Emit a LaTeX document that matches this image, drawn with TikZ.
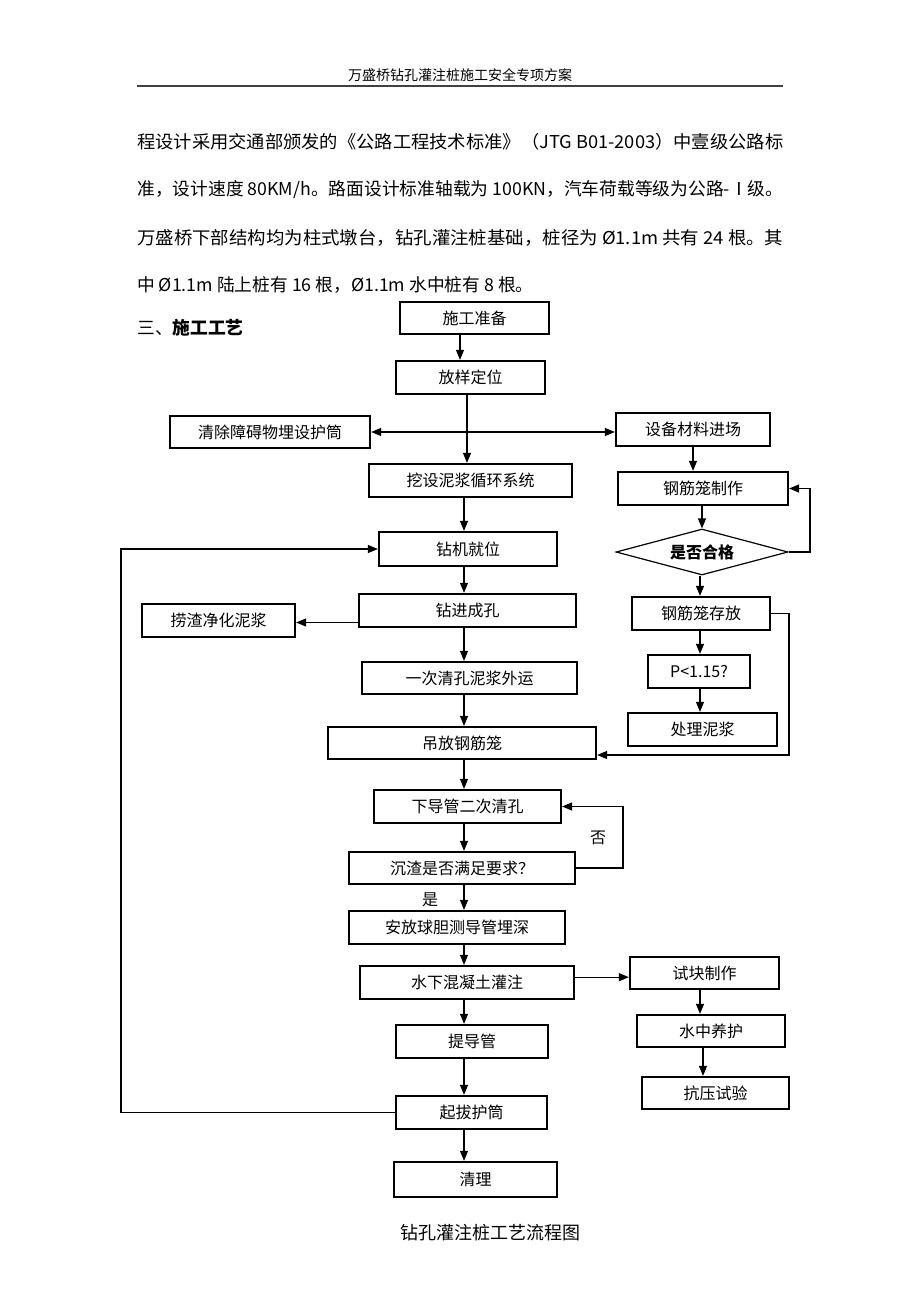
\documentclass[tikz,border=0pt]{standalone}
\usepackage{fontspec}
\setmainfont{Noto Sans CJK SC}
\usetikzlibrary{arrows.meta,shapes.geometric}
\newcommand{\fullline}[1]{\resizebox{484.5pt}{\height}{#1}}
\begin{document}
\begin{tikzpicture}[x=0.75pt,y=-0.75pt,
  box/.style={draw, line width=1.7pt, inner sep=0pt, font=\fontsize{12}{14}\selectfont},
  bx/.style 2 args={minimum width=#1*0.75pt, minimum height=#2*0.75pt},
  arr/.style={-{Triangle[length=7.5pt,width=6pt]}, line width=0.9pt},
  dbl/.style={{Triangle[length=7.5pt,width=6pt]}-{Triangle[length=7.5pt,width=6pt]}, line width=0.9pt},
  ln/.style={line width=0.9pt},
  para/.style={anchor=west, inner sep=0pt, font=\fontsize{13.3}{16}\selectfont},
  lbl/.style={inner sep=0pt, font=\fontsize{12}{14}\selectfont}
]
\useasboundingbox[fill=white] (0,0) rectangle (920,1302);

% header
\node[inner sep=0pt, font=\fontsize{10.5}{12}\selectfont] (hdr) at (460,75) {万盛桥钻孔灌注桩施工安全专项方案};
\coordinate (hl) at (137,86);
\coordinate (hr) at (783,86);
\draw[line width=1.6pt, black!75] (hl) -- (hr);

% paragraph
\node[para] (p1) at (137,142) {\fullline{程设计采用交通部颁发的《公路工程技术标准》（JTG B01-2003）中壹级公路标}};
\node[para] (p2) at (137,190) {\fullline{准，设计速度 80KM/h。路面设计标准轴载为 100KN，汽车荷载等级为公路-Ⅰ级。}};
\node[para] (p3) at (137,238) {\fullline{万盛桥下部结构均为柱式墩台，钻孔灌注桩基础，桩径为 Ø1.1m 共有 24 根。其}};
\node[para] (p4) at (137,285) {中 Ø1.1m 陆上桩有 16 根，Ø1.1m 水中桩有 8 根。};
\node[para] (sec) at (137,328) {三、\textbf{施工工艺}};

% main column
\node[box, bx={149}{32}] (prep) at (474.5,318) {施工准备};
\node[box, bx={149}{33}] (loc) at (470.5,377.5) {放样定位};
\node[box, bx={200}{32}] (clr) at (270,432) {清除障碍物埋设护筒};
\node[box, bx={154}{33}] (equip) at (693,429.5) {设备材料进场};
\node[box, bx={203}{33}] (mud) at (470.5,480.5) {挖设泥浆循环系统};
\node[box, bx={178}{34}] (rig) at (468,549) {钻机就位};
\node[box, bx={217}{33}] (drill) at (467.5,610.5) {钻进成孔};
\node[box, bx={153}{33}] (slag) at (218.5,620.5) {捞渣净化泥浆};
\node[box, bx={215}{32}] (clean) at (469.5,678) {一次清孔泥浆外运};
\node[box, bx={268}{32}] (lift) at (462,743) {吊放钢筋笼};
\node[box, bx={187}{33}] (pipe) at (467.5,806.5) {下导管二次清孔};
\node[box, bx={226}{32}] (check) at (462,868) {沉渣是否满足要求？};
\node[box, bx={216}{33}] (ball) at (457,927.5) {安放球胆测导管埋深};
\node[box, bx={214}{33}] (pour) at (467,982.5) {水下混凝土灌注};
\node[box, bx={152}{33}] (raise) at (472,1041.5) {提导管};
\node[box, bx={151}{33}] (pull) at (471.5,1112.5) {起拔护筒};
\node[box, bx={163}{35}] (tidy) at (475.5,1179.5) {清理};

% right column
\node[box, bx={170}{33}] (cage) at (703,488.5) {钢筋笼制作};
\node[draw, diamond, line width=0.9pt, inner sep=0pt, aspect=3.7, bx={172}{46},
      font=\fontsize{12}{14}\selectfont\bfseries] (dia) at (702,552) {是否合格};
\node[box, bx={138}{33}] (store) at (701,613.5) {钢筋笼存放};
\node[box, bx={102}{33}] (pq) at (699,671.5) {P<1.15?};
\node[box, bx={149}{33}] (treat) at (702.5,729.5) {处理泥浆};
\node[box, bx={149}{32}] (test) at (704.5,973) {试块制作};
\node[box, bx={148}{32}] (cure) at (711,1031) {水中养护};
\node[box, bx={147}{32}] (press) at (715.5,1093) {抗压试验};

% caption
\node[inner sep=0pt, font=\fontsize{13.5}{16}\selectfont] (cap) at (490,1233) {钻孔灌注桩工艺流程图};

% column coordinates
\coordinate (cA) at (460,0);
\coordinate (cB) at (467,0);
\coordinate (cC) at (464,0);
\coordinate (rA) at (693,0);
\coordinate (rB) at (702,0);
\coordinate (rC) at (700,0);
\coordinate (rD) at (703,0);

% main arrows
\draw[arr] (prep.south -| cA) -- (loc.north -| cA);
\draw[arr] (loc.south -| cB) -- (mud.north -| cB);
\draw[dbl] (clr.east) -- (clr.east -| equip.west);
\draw[arr] (mud.south -| cC) -- (rig.north -| cC);
\draw[arr] (rig.south -| cC) -- (drill.north -| cC);
\coordinate (dw) at ([yshift=-9pt]drill.west);
\draw[arr] (dw) -- (dw -| slag.east);
\draw[arr] (drill.south -| cC) -- (clean.north -| cC);
\draw[arr] (clean.south -| cC) -- (lift.north -| cC);
\draw[arr] (lift.south -| cC) -- (pipe.north -| cC);
\draw[arr] (pipe.south -| cC) -- (check.north -| cC);
\draw[arr] (check.south -| cC) -- (ball.north -| cC);
\draw[arr] (ball.south -| cC) -- (pour.north -| cC);
\draw[arr] (pour.south -| cC) -- (raise.north -| cC);
\draw[arr] (raise.south -| cC) -- (pull.north -| cC);
\draw[arr] (pull.south -| cC) -- (tidy.north -| cC);

% 否 loop
\coordinate (nr) at (623,0);
\draw[arr] (check.east) -- (check.east -| nr) |- (pipe.east);
\node[lbl] (no) at (598,838) {否};
\node[lbl] (yes) at (430,900) {是};

% left loop
\coordinate (lc) at (121,549);
\draw[arr] (pull.west) -| (lc) -- (rig.west);

% right column arrows
\draw[arr] (equip.south -| rA) -- (cage.north -| rA);
\draw[arr] (cage.south -| rB) -- (dia.north -| rB);
\coordinate (dr) at (810,0);
\draw[arr] (dia.east) -- (dia.east -| dr) |- (cage.east);
\draw[arr] (dia.south -| rC) -- (store.north -| rC);
\draw[arr] (store.south -| rC) -- (pq.north -| rC);
\draw[arr] (pq.south -| rC) -- (treat.north -| rC);
\coordinate (sr) at (789,0);
\coordinate (le) at ([yshift=-9pt]lift.east);
\draw[arr] (store.east) -- (store.east -| sr) |- (le);
\coordinate (pe) at ([yshift=4pt]pour.east);
\draw[arr] (pe) -- (pe -| test.west);
\draw[arr] (test.south -| rC) -- (cure.north -| rC);
\draw[arr] (cure.south -| rD) -- (press.north -| rD);
\end{tikzpicture}
\end{document}
